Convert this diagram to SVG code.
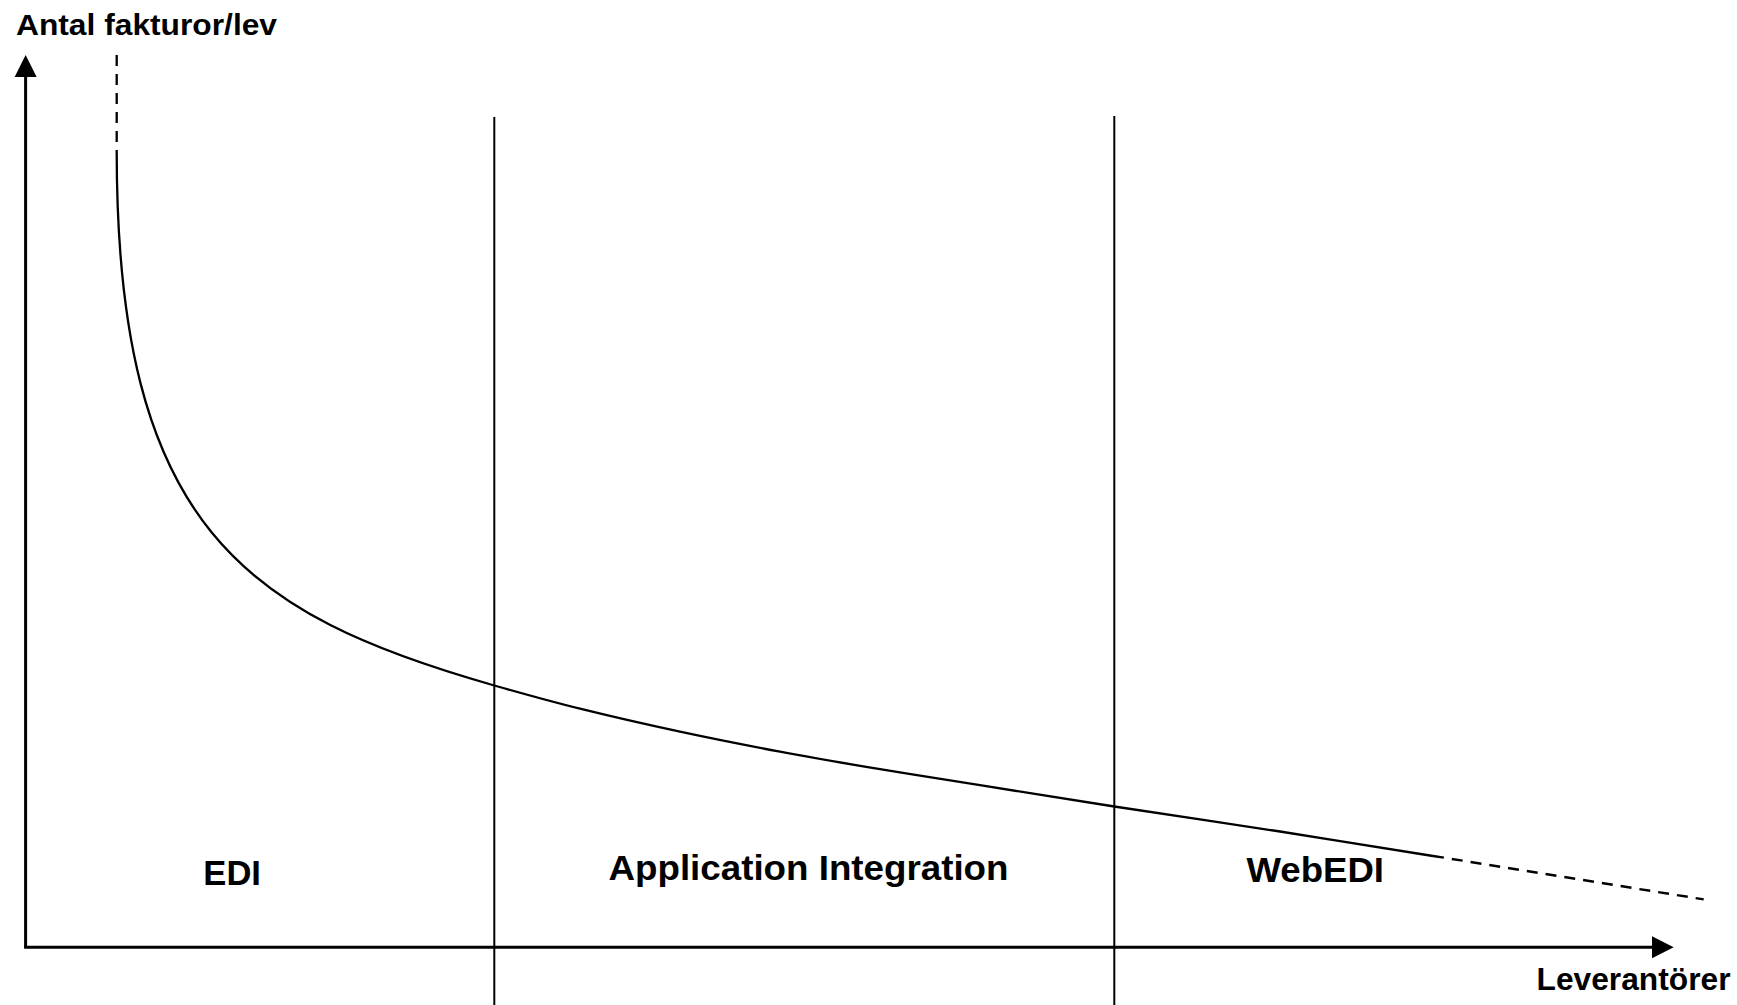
<svg xmlns="http://www.w3.org/2000/svg" width="1737" height="1005" viewBox="0 0 1737 1005">
  <style>
    .axis { stroke: #000; stroke-width: 3; fill: none; }
    .divider { stroke: #000; stroke-width: 2; fill: none; }
    .curve { stroke: #000; stroke-width: 2.3; fill: none; }
    .dash { stroke: #000; stroke-width: 2.3; fill: none; stroke-dasharray: 11 8; }
    .head { fill: #000; stroke: none; }
    .lbl { font-family: "Liberation Sans", Arial, sans-serif; font-weight: bold; fill: #000; }
  </style>
  <rect x="0" y="0" width="1737" height="1005" fill="#fff"/>
  <g id="connectors">
    <g id="y-axis">
      <line class="axis" x1="25.6" y1="947.3" x2="25.6" y2="75"/>
      <polygon class="head" points="25.6,55 14.6,77 36.6,77"/>
    </g>
    <g id="x-axis">
      <line class="axis" x1="24.1" y1="947.3" x2="1654" y2="947.3"/>
      <polygon class="head" points="1673.7,947.3 1652,936.3 1652,958.3"/>
    </g>
    <g id="dividers">
      <line class="divider" x1="494.3" y1="117" x2="494.3" y2="1005"/>
      <line class="divider" x1="1114.3" y1="116" x2="1114.3" y2="1005"/>
    </g>
    <g id="curve">
      <line class="dash" x1="116.7" y1="55" x2="116.7" y2="152"/>
      <path class="curve" d="M116.7,152 C116.7,526.5 244.3,614.4 494.3,685.5 C518.75,692.45 549.05,701 580,708.7 C610.95,716.4 646.67,724.53 680,731.7 C713.33,738.87 746.67,745.45 780,751.7 C813.33,757.95 846.67,763.62 880,769.2 C913.33,774.78 940.95,778.98 980,785.2 C1019.05,791.42 1064.3,798.78 1114.3,806.5 C1164.3,814.22 1226.88,823.25 1280,831.5 C1333.12,839.75 1407.5,851.92 1433,856"/>
      <line class="dash" x1="1433" y1="856" x2="1703.7" y2="899.3"/>
    </g>
  </g>
  <g id="label-y-axis">
    <text class="lbl" x="16" y="35" font-size="29" textLength="261" lengthAdjust="spacingAndGlyphs">Antal fakturor/lev</text>
  </g>
  <g id="label-x-axis">
    <text class="lbl" x="1536.5" y="990" font-size="31" textLength="194" lengthAdjust="spacingAndGlyphs">Leverantörer</text>
  </g>
  <g id="region-edi">
    <text class="lbl" x="203.3" y="885" font-size="35" textLength="57.7" lengthAdjust="spacingAndGlyphs">EDI</text>
  </g>
  <g id="region-application-integration">
    <text class="lbl" x="608.5" y="880" font-size="35" textLength="400" lengthAdjust="spacingAndGlyphs">Application Integration</text>
  </g>
  <g id="region-webedi">
    <text class="lbl" x="1246.5" y="882" font-size="35" textLength="137.5" lengthAdjust="spacingAndGlyphs">WebEDI</text>
  </g>
</svg>
